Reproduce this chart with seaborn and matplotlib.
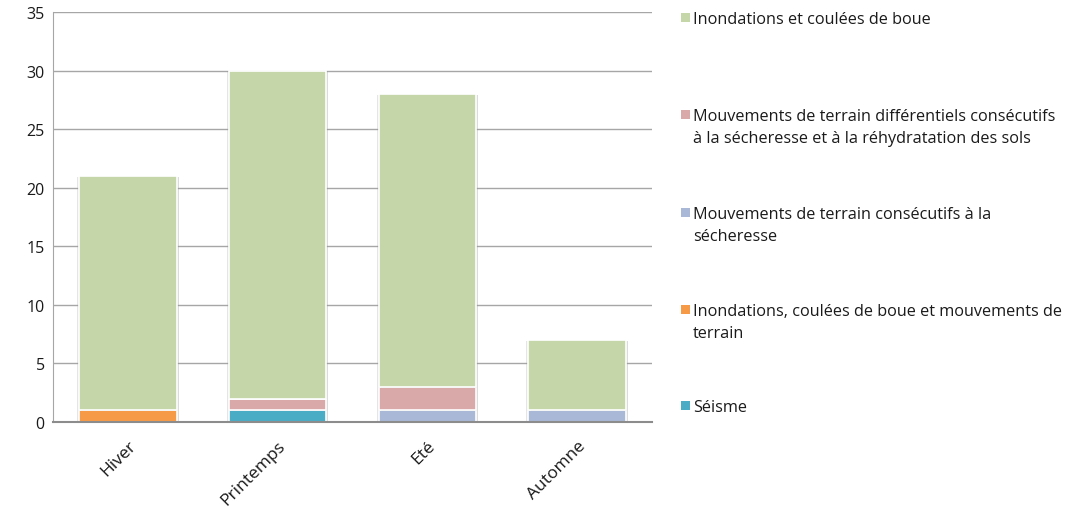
import matplotlib
matplotlib.use("Agg")
import matplotlib.pyplot as plt
import matplotlib.patheffects as pe
from matplotlib.patches import Rectangle
import seaborn as sns
import numpy as np

# Saisons et nombre d'arrêtés par type de risque
saisons = ["Hiver", "Printemps", "Eté", "Automne"]
seisme = [0, 1, 0, 0]
inond_coulees_mouv = [1, 0, 0, 0]
mouv_secheresse = [0, 0, 1, 1]
mouv_differentiels = [0, 1, 2, 0]
inond_coulees = [20, 28, 25, 6]

series = [
    ("Séisme", seisme, "#4BACC6"),
    ("Inondations, coulées de boue et mouvements de\nterrain", inond_coulees_mouv, "#F79A48"),
    ("Mouvements de terrain consécutifs à la\nsécheresse", mouv_secheresse, "#A9B8D7"),
    ("Mouvements de terrain différentiels consécutifs\nà la sécheresse et à la réhydratation des sols",
     mouv_differentiels, "#D9A8A8"),
    ("Inondations et coulées de boue", inond_coulees, "#C5D6A9"),
]

sns.set_style("white")
plt.rcParams["font.family"] = ["Open Sans", "DejaVu Sans"]

W, H = 1076, 510
fig = plt.figure(figsize=(W / 100, H / 100), dpi=100)
ax = fig.add_axes([53 / W, 1 - 423 / H, (652 - 53) / W, (423 - 13) / H])

# léger halo gris autour des barres
shadow = [pe.SimplePatchShadow(offset=(1.5, -0.5), shadow_rgbFace="#9a9a9a", alpha=0.35),
          pe.SimplePatchShadow(offset=(-1.5, -0.5), shadow_rgbFace="#9a9a9a", alpha=0.25),
          pe.Normal()]

bottom = np.zeros(len(saisons))
for label, vals, color in series:
    vals = np.array(vals, dtype=float)
    sns.barplot(x=saisons, y=vals, bottom=bottom, color=color, width=0.65,
                edgecolor="white", linewidth=1.2, ax=ax, saturation=1)
    bottom += vals

for p in ax.patches:
    if p.get_height() > 0:
        p.set_path_effects(shadow)
    else:
        p.set_visible(False)

ax.set_ylim(0, 35)
ax.set_yticks(range(0, 36, 5))
ax.set_xlim(-0.5, 3.5)
ax.yaxis.grid(True, color="#A6A6A6", linewidth=1)
ax.set_axisbelow(True)
for s in ["top", "right"]:
    ax.spines[s].set_visible(False)
ax.spines["left"].set_color("#A6A6A6")
ax.spines["bottom"].set_color("#8C8C8C")
ax.spines["bottom"].set_linewidth(1.5)
ax.spines["bottom"].set_zorder(5)
ax.tick_params(axis="both", length=0, colors="#1a1a1a")
ax.tick_params(axis="y", pad=6, labelsize=11.5)
ax.tick_params(axis="x", pad=11, labelsize=12.5)
ax.set_xlabel("")
ax.set_ylabel("")
for t in ax.get_xticklabels():
    t.set_rotation(45)
    t.set_ha("right")
    t.set_rotation_mode("anchor")

# Légende à droite, un élément par type de risque (ordre inverse de l'empilement)
legend_rows = [18, 115, 213, 310, 406]
for (label, _, color), y in zip(reversed(series), legend_rows):
    fig.add_artist(Rectangle((681 / W, 1 - (y + 4.5) / H), 8.5 / W, 8.5 / H,
                             transform=fig.transFigure, facecolor=color,
                             edgecolor="none"))
    fig.text(693 / W, 1 - (y - 6) / H, label, fontsize=11.7, va="top", ha="left",
             color="#1a1a1a", linespacing=1.5, transform=fig.transFigure)

fig.savefig("out.png", dpi=100, facecolor="white")
